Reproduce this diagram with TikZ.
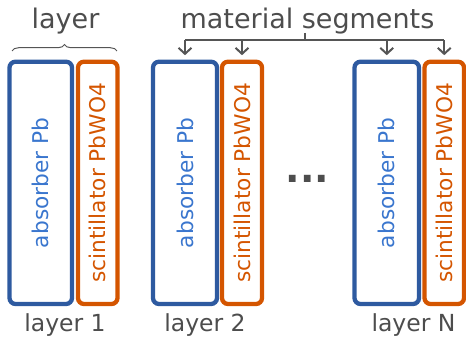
\documentclass[tikz,border=0pt]{standalone}
\usepackage{fontspec}
\setmainfont{DejaVu Sans}
\usetikzlibrary{arrows.meta,decorations.pathreplacing}

\definecolor{absblue}{RGB}{46,90,160}
\definecolor{abstext}{RGB}{58,118,206}
\definecolor{scinorange}{RGB}{212,85,0}
\definecolor{labelgray}{RGB}{77,77,77}
\definecolor{linegray}{RGB}{85,85,85}

\tikzset{
  absbox/.style={draw=absblue, line width=4.3pt, rounded corners=6pt,
    minimum height=242.3pt, inner sep=0pt, outer sep=0pt, anchor=south west},
  scinbox/.style={draw=scinorange, line width=4.3pt, rounded corners=6pt,
    minimum height=242.3pt, inner sep=0pt, outer sep=0pt, anchor=south west},
  abslabel/.style={rotate=90, text=abstext, font=\fontsize{21.7}{26}\selectfont},
  scinlabel/.style={rotate=90, text=scinorange, font=\fontsize{21.7}{26}\selectfont},
  toplabel/.style={text=labelgray, font=\fontsize{27}{32}\selectfont, anchor=base, inner sep=0pt},
  layerlabel/.style={text=labelgray, font=\fontsize{23.5}{28}\selectfont, anchor=base, inner sep=0pt},
  segarrow/.style={draw=linegray, line width=2pt,
    -{Straight Barb[length=6pt, width=13pt, line width=2pt]}, shorten >=6.5pt},
}

\begin{document}
\begin{tikzpicture}[x=1pt, y=1pt]
  \useasboundingbox (0,0) rectangle (466,337);

  % layer 1
  \node[absbox, minimum width=62.5pt] (a1) at (9.5,33) {};
  \node[scinbox, minimum width=39.5pt] (s1) at (78,33) {};
  % layer 2
  \node[absbox, minimum width=64pt] (a2) at (153,33) {};
  \node[scinbox, minimum width=40pt] (s2) at (222,33) {};
  % layer N
  \node[absbox, minimum width=64.5pt] (aN) at (354.5,33) {};
  \node[scinbox, minimum width=39.5pt] (sN) at (424.5,33) {};

  % rotated material names
  \foreach \b in {a1,a2,aN} \node[abslabel] (t\b) at (\b.center) {absorber Pb};
  \foreach \b in {s1,s2,sN} \node[scinlabel] (t\b) at (\b.center) {scintillator PbWO4};

  % layer captions
  \node[layerlabel] (l1) at (65,5) {layer 1};
  \node[layerlabel] (l2) at (205,5) {layer 2};
  \node[layerlabel] (lN) at (413.5,5) {layer N};

  % continuation dots
  \node[text=labelgray, font=\fontsize{38}{42}\selectfont\bfseries, anchor=base, inner sep=0pt]
    (dots) at (307.5,154) {...};

  % brace over one layer
  \node[toplabel] (layer) at (65.5,308.5) {layer};
  \coordinate (bl) at (12,286);
  \coordinate (br) at (117,286);
  \draw[linegray, line width=1pt, decorate,
        decoration={brace, amplitude=6.5pt}] (bl) -- (br);

  % material segments bracket
  \node[toplabel] (seg) at (307.5,308.5) {material segments};
  \coordinate (stemtop) at (305,304);
  \coordinate (stembot) at (305,296.5);
  \draw[linegray, line width=2pt] (stemtop) -- (stembot);
  \draw[linegray, line width=2pt] (a2.north |- stembot) -- (sN.north |- stembot);
  \foreach \b in {a2,s2,aN,sN}
    \draw[segarrow] (\b.north |- stembot) -- (\b.north);
\end{tikzpicture}
\end{document}
